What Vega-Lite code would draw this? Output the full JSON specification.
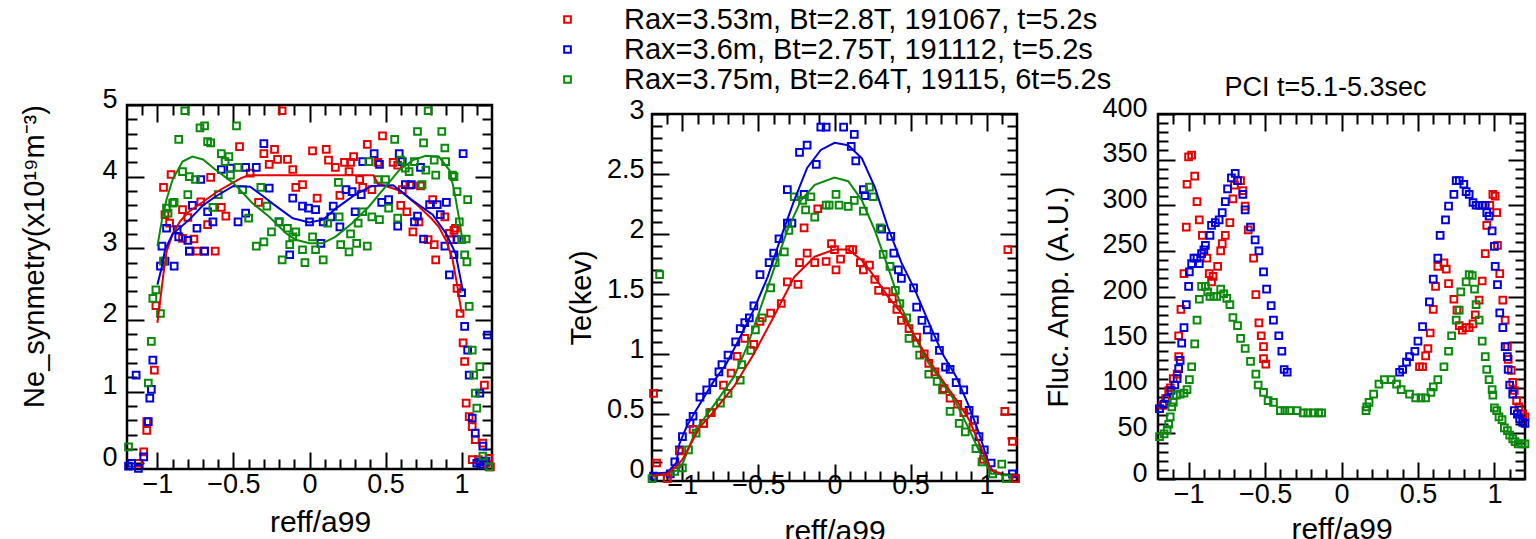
{
"$schema": "https://vega.github.io/schema/vega-lite/v6.json",
"padding": {"left": 19, "top": 5, "right": 0, "bottom": 0},
"background": "white",
"config": {
  "font": "'Liberation Sans', Arial, sans-serif",
  "view": {"stroke": "black", "strokeWidth": 2.5},
  "axis": {"domain": false, "grid": false, "tickColor": "black", "tickWidth": 2, "labelFontSize": 27, "labelColor": "black", "titleFontSize": 29, "titleFontWeight": "normal", "titleColor": "black", "labelOverlap": false, "labelFlush": false, "format": "~r"},
  "axisBottom": {"titleFontSize": 30},
  "title": {"fontSize": 27, "fontWeight": "normal", "color": "black"}
},
"datasets": {
"ne_pts": [
{"s":"r","x":-1.01,"y":2.2},{"s":"r","x":-1.02,"y":1.3},{"s":"r","x":-1.07,"y":0.58},{"s":"r","x":-1.07,"y":0.46},{"s":"r","x":-1.09,"y":0.16},{"s":"r","x":-1.125,"y":0.0},{"s":"r","x":-0.96,"y":3.85},{"s":"r","x":-0.91,"y":4.03},{"s":"r","x":-0.95,"y":3.47},{"s":"r","x":-0.92,"y":3.35},{"s":"r","x":-0.835,"y":3.54},{"s":"r","x":-0.8,"y":3.43},{"s":"r","x":-0.835,"y":3.14},{"s":"r","x":-0.76,"y":3.13},{"s":"r","x":-0.79,"y":2.96},{"s":"r","x":-0.74,"y":2.96},{"s":"r","x":-0.69,"y":2.96},{"s":"r","x":-0.62,"y":2.96},{"s":"r","x":-0.715,"y":3.65},{"s":"r","x":-0.67,"y":3.33},{"s":"r","x":-0.65,"y":3.99},{"s":"r","x":-0.58,"y":3.57},{"s":"r","x":-0.55,"y":3.45},{"s":"r","x":-0.46,"y":4.42},{"s":"r","x":-0.39,"y":4.05},{"s":"r","x":-0.335,"y":3.64},{"s":"r","x":-0.3,"y":4.32},{"s":"r","x":-0.265,"y":4.17},{"s":"r","x":-0.23,"y":4.38},{"s":"r","x":-0.21,"y":4.24},{"s":"r","x":-0.145,"y":4.24},{"s":"r","x":-0.11,"y":4.1},{"s":"r","x":-0.18,"y":4.92},{"s":"r","x":-0.09,"y":3.85},{"s":"r","x":-0.046,"y":3.89},{"s":"r","x":0.02,"y":4.36},{"s":"r","x":0.05,"y":3.7},{"s":"r","x":0.11,"y":4.38},{"s":"r","x":0.125,"y":4.23},{"s":"r","x":0.17,"y":4.13},{"s":"r","x":0.2,"y":3.74},{"s":"r","x":0.23,"y":4.2},{"s":"r","x":0.27,"y":4.2},{"s":"r","x":0.29,"y":4.28},{"s":"r","x":0.26,"y":4.07},{"s":"r","x":0.33,"y":3.96},{"s":"r","x":0.35,"y":3.85},{"s":"r","x":0.38,"y":4.45},{"s":"r","x":0.41,"y":3.82},{"s":"r","x":0.45,"y":4.2},{"s":"r","x":0.48,"y":4.57},{"s":"r","x":0.55,"y":4.2},{"s":"r","x":0.58,"y":4.16},{"s":"r","x":0.6,"y":3.6},{"s":"r","x":0.61,"y":3.82},{"s":"r","x":0.64,"y":3.51},{"s":"r","x":0.68,"y":3.23},{"s":"r","x":0.72,"y":3.37},{"s":"r","x":0.78,"y":3.12},{"s":"r","x":0.82,"y":3.05},{"s":"r","x":0.83,"y":2.84},{"s":"r","x":0.81,"y":3.68},{"s":"r","x":0.89,"y":3.44},{"s":"r","x":0.92,"y":3.21},{"s":"r","x":0.93,"y":3.12},{"s":"r","x":0.97,"y":2.44},{"s":"r","x":0.99,"y":2.09},{"s":"r","x":1.01,"y":1.68},{"s":"r","x":1.02,"y":1.42},{"s":"r","x":1.03,"y":0.84},{"s":"r","x":1.05,"y":0.65},{"s":"r","x":1.07,"y":0.51},{"s":"r","x":1.09,"y":0.33},{"s":"r","x":1.15,"y":1.09},{"s":"r","x":1.14,"y":0.28},{"s":"r","x":1.07,"y":0.05},{"s":"r","x":1.11,"y":0.05},{"s":"r","x":1.16,"y":0.0},{"s":"r","x":1.18,"y":0.07},{"s":"r","x":1.19,"y":-0.05},{"s":"r","x":0.73,"y":3.87},{"s":"r","x":0.66,"y":3.88},{"s":"r","x":0.95,"y":3.25},{"s":"r","x":0.96,"y":3.28},
{"s":"b","x":-1.19,"y":-0.04},{"s":"b","x":-1.17,"y":0.0},{"s":"b","x":-1.125,"y":-0.07},{"s":"b","x":-1.14,"y":1.23},{"s":"b","x":-1.09,"y":0.09},{"s":"b","x":-1.06,"y":0.58},{"s":"b","x":-1.04,"y":1.03},{"s":"b","x":-1.03,"y":1.44},{"s":"b","x":-1.05,"y":0.91},{"s":"b","x":-0.97,"y":3.03},{"s":"b","x":-0.98,"y":2.75},{"s":"b","x":-0.95,"y":2.82},{"s":"b","x":-0.89,"y":2.75},{"s":"b","x":-0.94,"y":3.28},{"s":"b","x":-0.87,"y":3.26},{"s":"b","x":-0.86,"y":3.16},{"s":"b","x":-0.8,"y":3.11},{"s":"b","x":-0.79,"y":2.96},{"s":"b","x":-0.77,"y":3.6},{"s":"b","x":-0.715,"y":3.96},{"s":"b","x":-0.74,"y":3.28},{"s":"b","x":-0.69,"y":2.96},{"s":"b","x":-0.67,"y":3.51},{"s":"b","x":-0.635,"y":3.37},{"s":"b","x":-0.58,"y":4.1},{"s":"b","x":-0.52,"y":4.12},{"s":"b","x":-0.47,"y":3.37},{"s":"b","x":-0.42,"y":3.49},{"s":"b","x":-0.42,"y":4.13},{"s":"b","x":-0.35,"y":4.13},{"s":"b","x":-0.3,"y":4.46},{"s":"b","x":-0.265,"y":3.84},{"s":"b","x":-0.2,"y":3.37},{"s":"b","x":-0.13,"y":2.91},{"s":"b","x":-0.11,"y":3.7},{"s":"b","x":-0.046,"y":3.59},{"s":"b","x":-0.007,"y":3.56},{"s":"b","x":0.04,"y":3.54},{"s":"b","x":0.0,"y":3.37},{"s":"b","x":0.075,"y":3.07},{"s":"b","x":0.09,"y":3.37},{"s":"b","x":0.156,"y":3.59},{"s":"b","x":0.14,"y":3.44},{"s":"b","x":0.2,"y":3.3},{"s":"b","x":0.24,"y":3.82},{"s":"b","x":0.28,"y":3.79},{"s":"b","x":0.3,"y":3.51},{"s":"b","x":0.34,"y":3.75},{"s":"b","x":0.35,"y":4.21},{"s":"b","x":0.425,"y":4.32},{"s":"b","x":0.46,"y":4.17},{"s":"b","x":0.475,"y":3.64},{"s":"b","x":0.52,"y":3.68},{"s":"b","x":0.58,"y":3.31},{"s":"b","x":0.59,"y":4.32},{"s":"b","x":0.61,"y":4.21},{"s":"b","x":0.63,"y":3.89},{"s":"b","x":0.67,"y":3.89},{"s":"b","x":0.69,"y":3.37},{"s":"b","x":0.71,"y":3.45},{"s":"b","x":0.73,"y":4.13},{"s":"b","x":0.75,"y":3.13},{"s":"b","x":0.79,"y":3.61},{"s":"b","x":0.84,"y":3.61},{"s":"b","x":0.86,"y":3.47},{"s":"b","x":0.89,"y":3.03},{"s":"b","x":0.9,"y":3.64},{"s":"b","x":0.92,"y":2.63},{"s":"b","x":0.95,"y":2.91},{"s":"b","x":0.97,"y":3.12},{"s":"b","x":1.0,"y":2.38},{"s":"b","x":1.02,"y":1.91},{"s":"b","x":1.04,"y":1.58},{"s":"b","x":1.05,"y":1.23},{"s":"b","x":1.07,"y":0.63},{"s":"b","x":1.09,"y":0.42},{"s":"b","x":1.12,"y":0.98},{"s":"b","x":1.14,"y":0.24},{"s":"b","x":1.17,"y":1.79},{"s":"b","x":1.01,"y":4.32},{"s":"b","x":1.1,"y":0.0},{"s":"b","x":1.12,"y":0.02},{"s":"b","x":1.14,"y":-0.02},{"s":"b","x":1.16,"y":0.03},
{"s":"g","x":-1.19,"y":0.23},{"s":"g","x":-1.06,"y":1.12},{"s":"g","x":-1.04,"y":1.7},{"s":"g","x":-1.03,"y":2.3},{"s":"g","x":-1.01,"y":2.42},{"s":"g","x":-0.98,"y":2.09},{"s":"g","x":-0.96,"y":2.82},{"s":"g","x":-0.94,"y":3.56},{"s":"g","x":-0.93,"y":3.49},{"s":"g","x":-0.9,"y":3.63},{"s":"g","x":-0.89,"y":3.64},{"s":"g","x":-0.86,"y":4.52},{"s":"g","x":-0.835,"y":4.07},{"s":"g","x":-0.82,"y":4.92},{"s":"g","x":-0.8,"y":3.75},{"s":"g","x":-0.79,"y":4.0},{"s":"g","x":-0.75,"y":3.96},{"s":"g","x":-0.72,"y":4.68},{"s":"g","x":-0.69,"y":4.71},{"s":"g","x":-0.67,"y":4.49},{"s":"g","x":-0.65,"y":4.47},{"s":"g","x":-0.635,"y":3.57},{"s":"g","x":-0.6,"y":3.75},{"s":"g","x":-0.58,"y":4.32},{"s":"g","x":-0.555,"y":4.21},{"s":"g","x":-0.53,"y":4.28},{"s":"g","x":-0.52,"y":4.02},{"s":"g","x":-0.48,"y":4.71},{"s":"g","x":-0.47,"y":4.13},{"s":"g","x":-0.44,"y":3.82},{"s":"g","x":-0.4,"y":3.42},{"s":"g","x":-0.35,"y":3.03},{"s":"g","x":-0.32,"y":3.85},{"s":"g","x":-0.3,"y":3.09},{"s":"g","x":-0.28,"y":3.59},{"s":"g","x":-0.25,"y":3.23},{"s":"g","x":-0.2,"y":3.37},{"s":"g","x":-0.18,"y":2.84},{"s":"g","x":-0.145,"y":3.28},{"s":"g","x":-0.13,"y":3.05},{"s":"g","x":-0.11,"y":3.16},{"s":"g","x":-0.09,"y":3.23},{"s":"g","x":-0.046,"y":2.98},{"s":"g","x":-0.03,"y":2.8},{"s":"g","x":0.02,"y":3.16},{"s":"g","x":0.04,"y":2.98},{"s":"g","x":0.09,"y":2.84},{"s":"g","x":0.12,"y":3.35},{"s":"g","x":0.19,"y":3.92},{"s":"g","x":0.195,"y":3.44},{"s":"g","x":0.205,"y":3.05},{"s":"g","x":0.26,"y":2.95},{"s":"g","x":0.27,"y":3.2},{"s":"g","x":0.31,"y":3.07},{"s":"g","x":0.32,"y":3.35},{"s":"g","x":0.35,"y":3.51},{"s":"g","x":0.38,"y":3.03},{"s":"g","x":0.39,"y":4.21},{"s":"g","x":0.41,"y":3.44},{"s":"g","x":0.45,"y":3.96},{"s":"g","x":0.46,"y":3.4},{"s":"g","x":0.5,"y":3.96},{"s":"g","x":0.52,"y":3.56},{"s":"g","x":0.56,"y":4.52},{"s":"g","x":0.58,"y":3.42},{"s":"g","x":0.6,"y":4.23},{"s":"g","x":0.63,"y":4.12},{"s":"g","x":0.655,"y":4.07},{"s":"g","x":0.69,"y":4.21},{"s":"g","x":0.71,"y":4.63},{"s":"g","x":0.74,"y":3.89},{"s":"g","x":0.75,"y":4.47},{"s":"g","x":0.765,"y":4.09},{"s":"g","x":0.78,"y":4.92},{"s":"g","x":0.82,"y":4.23},{"s":"g","x":0.83,"y":4.02},{"s":"g","x":0.87,"y":4.63},{"s":"g","x":0.89,"y":4.4},{"s":"g","x":0.895,"y":4.21},{"s":"g","x":0.94,"y":4.02},{"s":"g","x":0.95,"y":4.0},{"s":"g","x":0.97,"y":3.79},{"s":"g","x":0.985,"y":3.37},{"s":"g","x":1.0,"y":3.12},{"s":"g","x":1.02,"y":2.91},{"s":"g","x":1.03,"y":3.13},{"s":"g","x":1.035,"y":2.81},{"s":"g","x":1.04,"y":3.68},{"s":"g","x":1.05,"y":2.19},{"s":"g","x":1.07,"y":1.58},{"s":"g","x":1.08,"y":1.23},{"s":"g","x":1.09,"y":0.98},{"s":"g","x":1.1,"y":0.77},{"s":"g","x":1.12,"y":1.35},{"s":"g","x":1.14,"y":0.1},{"s":"g","x":1.18,"y":-0.05}
],
"ne_fit": [
{"s":"r","x":-1.0,"y":1.96},{"s":"r","x":-0.98,"y":2.3},{"s":"r","x":-0.96,"y":2.65},{"s":"r","x":-0.94,"y":2.95},{"s":"r","x":-0.9,"y":3.2},{"s":"r","x":-0.85,"y":3.38},{"s":"r","x":-0.8,"y":3.5},{"s":"r","x":-0.7,"y":3.65},{"s":"r","x":-0.6,"y":3.8},{"s":"r","x":-0.5,"y":3.92},{"s":"r","x":-0.45,"y":3.98},{"s":"r","x":-0.4,"y":4.02},{"s":"r","x":0.42,"y":4.02},{"s":"r","x":0.45,"y":3.9},{"s":"r","x":0.5,"y":3.87},{"s":"r","x":0.6,"y":3.8},{"s":"r","x":0.7,"y":3.62},{"s":"r","x":0.8,"y":3.42},{"s":"r","x":0.85,"y":3.3},{"s":"r","x":0.9,"y":3.1},{"s":"r","x":0.94,"y":2.85},{"s":"r","x":0.97,"y":2.5},{"s":"r","x":1.0,"y":2.1},
{"s":"b","x":-1.0,"y":2.49},{"s":"b","x":-0.97,"y":2.75},{"s":"b","x":-0.95,"y":2.98},{"s":"b","x":-0.9,"y":3.2},{"s":"b","x":-0.79,"y":3.4},{"s":"b","x":-0.7,"y":3.6},{"s":"b","x":-0.62,"y":3.72},{"s":"b","x":-0.5,"y":3.87},{"s":"b","x":-0.39,"y":3.86},{"s":"b","x":-0.3,"y":3.72},{"s":"b","x":-0.24,"y":3.62},{"s":"b","x":-0.11,"y":3.42},{"s":"b","x":0.0,"y":3.36},{"s":"b","x":0.09,"y":3.4},{"s":"b","x":0.17,"y":3.55},{"s":"b","x":0.3,"y":3.75},{"s":"b","x":0.41,"y":3.87},{"s":"b","x":0.55,"y":3.88},{"s":"b","x":0.67,"y":3.68},{"s":"b","x":0.81,"y":3.47},{"s":"b","x":0.9,"y":3.2},{"s":"b","x":0.96,"y":2.93},{"s":"b","x":1.0,"y":2.5},{"s":"b","x":1.01,"y":2.4},
{"s":"g","x":-1.0,"y":3.03},{"s":"g","x":-0.97,"y":3.4},{"s":"g","x":-0.94,"y":3.68},{"s":"g","x":-0.9,"y":3.96},{"s":"g","x":-0.835,"y":4.21},{"s":"g","x":-0.77,"y":4.28},{"s":"g","x":-0.7,"y":4.24},{"s":"g","x":-0.62,"y":4.1},{"s":"g","x":-0.5,"y":3.91},{"s":"g","x":-0.375,"y":3.63},{"s":"g","x":-0.265,"y":3.44},{"s":"g","x":-0.155,"y":3.21},{"s":"g","x":-0.09,"y":3.12},{"s":"g","x":0.0,"y":3.07},{"s":"g","x":0.085,"y":3.07},{"s":"g","x":0.17,"y":3.16},{"s":"g","x":0.28,"y":3.35},{"s":"g","x":0.39,"y":3.58},{"s":"g","x":0.5,"y":3.86},{"s":"g","x":0.59,"y":4.09},{"s":"g","x":0.68,"y":4.23},{"s":"g","x":0.765,"y":4.29},{"s":"g","x":0.85,"y":4.28},{"s":"g","x":0.92,"y":4.09},{"s":"g","x":0.95,"y":3.82},{"s":"g","x":0.985,"y":3.4},{"s":"g","x":1.005,"y":3.12}
],
"te_pts": [
{"s":"b","x":-1.19,"y":-0.02},{"s":"b","x":-1.08,"y":0.0},{"s":"b","x":-1.05,"y":0.1},{"s":"b","x":-1.02,"y":0.2},{"s":"b","x":-1.0,"y":0.31},{"s":"b","x":-0.95,"y":0.42},{"s":"b","x":-0.93,"y":0.48},{"s":"b","x":-0.885,"y":0.64},{"s":"b","x":-0.84,"y":0.7},{"s":"b","x":-0.8,"y":0.76},{"s":"b","x":-0.76,"y":0.85},{"s":"b","x":-0.74,"y":0.91},{"s":"b","x":-0.7,"y":0.99},{"s":"b","x":-0.65,"y":1.1},{"s":"b","x":-0.62,"y":1.21},{"s":"b","x":-0.59,"y":1.26},{"s":"b","x":-0.56,"y":1.3},{"s":"b","x":-0.53,"y":1.4},{"s":"b","x":-0.49,"y":1.66},{"s":"b","x":-0.43,"y":1.76},{"s":"b","x":-0.4,"y":1.84},{"s":"b","x":-0.365,"y":1.96},{"s":"b","x":-0.31,"y":2.09},{"s":"b","x":-0.31,"y":2.37},{"s":"b","x":-0.28,"y":2.09},{"s":"b","x":-0.23,"y":2.68},{"s":"b","x":-0.2,"y":2.33},{"s":"b","x":-0.18,"y":2.74},{"s":"b","x":-0.12,"y":2.58},{"s":"b","x":-0.09,"y":2.89},{"s":"b","x":-0.055,"y":2.89},{"s":"b","x":0.06,"y":2.89},{"s":"b","x":0.11,"y":2.73},{"s":"b","x":0.13,"y":2.83},{"s":"b","x":0.14,"y":2.61},{"s":"b","x":0.19,"y":2.37},{"s":"b","x":0.2,"y":2.32},{"s":"b","x":0.31,"y":2.04},{"s":"b","x":0.37,"y":1.98},{"s":"b","x":0.39,"y":1.84},{"s":"b","x":0.42,"y":1.7},{"s":"b","x":0.44,"y":1.63},{"s":"b","x":0.52,"y":1.55},{"s":"b","x":0.54,"y":1.39},{"s":"b","x":0.575,"y":1.28},{"s":"b","x":0.61,"y":1.2},{"s":"b","x":0.66,"y":1.14},{"s":"b","x":0.69,"y":1.03},{"s":"b","x":0.73,"y":0.89},{"s":"b","x":0.76,"y":0.87},{"s":"b","x":0.8,"y":0.76},{"s":"b","x":0.85,"y":0.7},{"s":"b","x":0.885,"y":0.53},{"s":"b","x":0.92,"y":0.45},{"s":"b","x":0.95,"y":0.31},{"s":"b","x":0.985,"y":0.2},{"s":"b","x":1.03,"y":0.09},{"s":"b","x":1.17,"y":0.0},{"s":"b","x":1.19,"y":-0.04},
{"s":"g","x":-1.2,"y":-0.04},{"s":"g","x":-1.15,"y":1.66},{"s":"g","x":-1.1,"y":-0.04},{"s":"g","x":-1.05,"y":0.02},{"s":"g","x":-1.0,"y":0.05},{"s":"g","x":-0.96,"y":0.2},{"s":"g","x":-0.91,"y":0.34},{"s":"g","x":-0.86,"y":0.42},{"s":"g","x":-0.82,"y":0.51},{"s":"g","x":-0.75,"y":0.59},{"s":"g","x":-0.7,"y":0.67},{"s":"g","x":-0.62,"y":0.78},{"s":"g","x":-0.61,"y":0.91},{"s":"g","x":-0.55,"y":1.03},{"s":"g","x":-0.52,"y":1.2},{"s":"g","x":-0.475,"y":1.3},{"s":"g","x":-0.42,"y":1.55},{"s":"g","x":-0.39,"y":1.76},{"s":"g","x":-0.33,"y":1.85},{"s":"g","x":-0.3,"y":2.03},{"s":"g","x":-0.265,"y":2.31},{"s":"g","x":-0.21,"y":2.28},{"s":"g","x":-0.19,"y":2.2},{"s":"g","x":-0.155,"y":2.31},{"s":"g","x":-0.13,"y":2.14},{"s":"g","x":-0.055,"y":2.24},{"s":"g","x":-0.035,"y":2.24},{"s":"g","x":0.01,"y":2.33},{"s":"g","x":0.03,"y":2.24},{"s":"g","x":0.09,"y":2.23},{"s":"g","x":0.13,"y":2.28},{"s":"g","x":0.19,"y":2.19},{"s":"g","x":0.23,"y":2.39},{"s":"g","x":0.255,"y":2.31},{"s":"g","x":0.3,"y":2.05},{"s":"g","x":0.32,"y":1.83},{"s":"g","x":0.365,"y":1.73},{"s":"g","x":0.4,"y":1.53},{"s":"g","x":0.43,"y":1.42},{"s":"g","x":0.475,"y":1.3},{"s":"g","x":0.49,"y":1.13},{"s":"g","x":0.54,"y":1.09},{"s":"g","x":0.56,"y":0.99},{"s":"g","x":0.62,"y":0.83},{"s":"g","x":0.675,"y":0.77},{"s":"g","x":0.71,"y":0.7},{"s":"g","x":0.76,"y":0.52},{"s":"g","x":0.82,"y":0.42},{"s":"g","x":0.86,"y":0.35},{"s":"g","x":0.93,"y":0.21},{"s":"g","x":0.97,"y":0.1},{"s":"g","x":1.04,"y":0.0},{"s":"g","x":1.1,"y":0.08},{"s":"g","x":1.13,"y":-0.04},
{"s":"r","x":-1.19,"y":0.67},{"s":"r","x":-1.17,"y":0.09},{"s":"r","x":-1.1,"y":-0.04},{"s":"r","x":-1.02,"y":0.19},{"s":"r","x":-0.93,"y":0.37},{"s":"r","x":-0.86,"y":0.42},{"s":"r","x":-0.81,"y":0.51},{"s":"r","x":-0.73,"y":0.74},{"s":"r","x":-0.68,"y":0.84},{"s":"r","x":-0.64,"y":0.98},{"s":"r","x":-0.59,"y":1.13},{"s":"r","x":-0.53,"y":1.08},{"s":"r","x":-0.49,"y":1.27},{"s":"r","x":-0.42,"y":1.34},{"s":"r","x":-0.35,"y":1.42},{"s":"r","x":-0.31,"y":1.6},{"s":"r","x":-0.24,"y":1.58},{"s":"r","x":-0.23,"y":1.76},{"s":"r","x":-0.18,"y":1.84},{"s":"r","x":-0.13,"y":1.76},{"s":"r","x":-0.11,"y":2.21},{"s":"r","x":-0.2,"y":2.05},{"s":"r","x":-0.055,"y":1.77},{"s":"r","x":-0.02,"y":1.92},{"s":"r","x":0.0,"y":1.87},{"s":"r","x":0.01,"y":1.7},{"s":"r","x":0.04,"y":1.79},{"s":"r","x":0.1,"y":1.87},{"s":"r","x":0.12,"y":1.87},{"s":"r","x":0.17,"y":1.76},{"s":"r","x":0.19,"y":1.7},{"s":"r","x":0.23,"y":1.74},{"s":"r","x":0.265,"y":1.62},{"s":"r","x":0.29,"y":1.53},{"s":"r","x":0.34,"y":1.52},{"s":"r","x":0.38,"y":1.46},{"s":"r","x":0.41,"y":1.37},{"s":"r","x":0.44,"y":1.28},{"s":"r","x":0.49,"y":1.21},{"s":"r","x":0.54,"y":1.14},{"s":"r","x":0.59,"y":1.0},{"s":"r","x":0.62,"y":0.92},{"s":"r","x":0.66,"y":0.85},{"s":"r","x":0.72,"y":0.71},{"s":"r","x":0.76,"y":0.63},{"s":"r","x":0.81,"y":0.58},{"s":"r","x":0.85,"y":0.51},{"s":"r","x":0.91,"y":0.39},{"s":"r","x":0.98,"y":0.12},{"s":"r","x":1.12,"y":0.52},{"s":"r","x":1.14,"y":1.87},{"s":"r","x":1.17,"y":0.27},{"s":"r","x":1.19,"y":-0.04}
],
"te_fit": [
{"s":"b","x":-1.2,"y":0.0},{"s":"b","x":-1.1,"y":0.01},{"s":"b","x":-1.04,"y":0.09},{"s":"b","x":-1.02,"y":0.25},{"s":"b","x":-0.97,"y":0.4},{"s":"b","x":-0.91,"y":0.53},{"s":"b","x":-0.8,"y":0.76},{"s":"b","x":-0.71,"y":0.92},{"s":"b","x":-0.62,"y":1.14},{"s":"b","x":-0.53,"y":1.37},{"s":"b","x":-0.44,"y":1.64},{"s":"b","x":-0.35,"y":1.98},{"s":"b","x":-0.265,"y":2.28},{"s":"b","x":-0.18,"y":2.55},{"s":"b","x":-0.09,"y":2.7},{"s":"b","x":0.0,"y":2.76},{"s":"b","x":0.09,"y":2.74},{"s":"b","x":0.18,"y":2.63},{"s":"b","x":0.265,"y":2.39},{"s":"b","x":0.35,"y":2.06},{"s":"b","x":0.44,"y":1.76},{"s":"b","x":0.53,"y":1.53},{"s":"b","x":0.62,"y":1.26},{"s":"b","x":0.71,"y":1.0},{"s":"b","x":0.8,"y":0.81},{"s":"b","x":0.885,"y":0.56},{"s":"b","x":0.95,"y":0.34},{"s":"b","x":1.02,"y":0.06},{"s":"b","x":1.06,"y":0.0},{"s":"b","x":1.1,"y":0.0},
{"s":"g","x":-1.2,"y":-0.02},{"s":"g","x":-1.1,"y":0.0},{"s":"g","x":-1.03,"y":0.03},{"s":"g","x":-1.0,"y":0.08},{"s":"g","x":-0.91,"y":0.37},{"s":"g","x":-0.8,"y":0.56},{"s":"g","x":-0.66,"y":0.81},{"s":"g","x":-0.575,"y":1.06},{"s":"g","x":-0.49,"y":1.37},{"s":"g","x":-0.4,"y":1.7},{"s":"g","x":-0.31,"y":2.03},{"s":"g","x":-0.22,"y":2.28},{"s":"g","x":-0.13,"y":2.41},{"s":"g","x":0.0,"y":2.47},{"s":"g","x":0.09,"y":2.44},{"s":"g","x":0.18,"y":2.28},{"s":"g","x":0.265,"y":2.03},{"s":"g","x":0.35,"y":1.73},{"s":"g","x":0.44,"y":1.39},{"s":"g","x":0.53,"y":1.14},{"s":"g","x":0.62,"y":0.92},{"s":"g","x":0.71,"y":0.76},{"s":"g","x":0.8,"y":0.59},{"s":"g","x":0.885,"y":0.37},{"s":"g","x":0.97,"y":0.14},{"s":"g","x":1.03,"y":0.0},{"s":"g","x":1.1,"y":0.0},
{"s":"r","x":-1.2,"y":-0.02},{"s":"r","x":-1.1,"y":0.0},{"s":"r","x":-1.04,"y":0.06},{"s":"r","x":-1.0,"y":0.12},{"s":"r","x":-0.885,"y":0.39},{"s":"r","x":-0.8,"y":0.51},{"s":"r","x":-0.66,"y":0.73},{"s":"r","x":-0.53,"y":1.0},{"s":"r","x":-0.4,"y":1.31},{"s":"r","x":-0.265,"y":1.64},{"s":"r","x":-0.13,"y":1.81},{"s":"r","x":0.0,"y":1.87},{"s":"r","x":0.09,"y":1.87},{"s":"r","x":0.18,"y":1.78},{"s":"r","x":0.265,"y":1.64},{"s":"r","x":0.35,"y":1.48},{"s":"r","x":0.44,"y":1.34},{"s":"r","x":0.53,"y":1.14},{"s":"r","x":0.62,"y":0.95},{"s":"r","x":0.71,"y":0.78},{"s":"r","x":0.8,"y":0.62},{"s":"r","x":0.885,"y":0.45},{"s":"r","x":0.97,"y":0.2},{"s":"r","x":1.03,"y":0.03},{"s":"r","x":1.1,"y":0.0}
],
"pci_pts": [
{"s":"r","x":-1.19,"y":77},{"s":"r","x":-1.17,"y":80.6},{"s":"r","x":-1.15,"y":88},{"s":"r","x":-1.13,"y":97},{"s":"r","x":-1.12,"y":100},{"s":"r","x":-1.1,"y":110},{"s":"r","x":-1.075,"y":115},{"s":"r","x":-1.065,"y":134},{"s":"r","x":-1.065,"y":157},{"s":"r","x":-1.05,"y":186},{"s":"r","x":-1.03,"y":225},{"s":"r","x":-1.015,"y":276},{"s":"r","x":-1.01,"y":323},{"s":"r","x":-1.0,"y":353},{"s":"r","x":-0.98,"y":355},{"s":"r","x":-0.96,"y":332},{"s":"r","x":-0.945,"y":304},{"s":"r","x":-0.93,"y":284},{"s":"r","x":-0.91,"y":267},{"s":"r","x":-0.88,"y":242},{"s":"r","x":-0.865,"y":225},{"s":"r","x":-0.85,"y":216},{"s":"r","x":-0.84,"y":222},{"s":"r","x":-0.81,"y":233},{"s":"r","x":-0.79,"y":250},{"s":"r","x":-0.78,"y":258},{"s":"r","x":-0.76,"y":267},{"s":"r","x":-0.73,"y":281},{"s":"r","x":-0.71,"y":307},{"s":"r","x":-0.7,"y":322},{"s":"r","x":-0.66,"y":327},{"s":"r","x":-0.645,"y":316},{"s":"r","x":-0.63,"y":299},{"s":"r","x":-0.61,"y":273},{"s":"r","x":-0.575,"y":242},{"s":"r","x":-0.56,"y":202},{"s":"r","x":-0.54,"y":171},{"s":"r","x":-0.525,"y":157},{"s":"r","x":-0.51,"y":145},{"s":"r","x":-0.51,"y":132},{"s":"r","x":-0.495,"y":126},
{"s":"r","x":0.51,"y":123},{"s":"r","x":0.53,"y":123},{"s":"r","x":0.55,"y":135},{"s":"r","x":0.565,"y":143},{"s":"r","x":0.58,"y":160},{"s":"r","x":0.6,"y":186},{"s":"r","x":0.615,"y":211},{"s":"r","x":0.63,"y":233},{"s":"r","x":0.67,"y":237},{"s":"r","x":0.685,"y":230},{"s":"r","x":0.7,"y":214},{"s":"r","x":0.735,"y":197},{"s":"r","x":0.755,"y":185},{"s":"r","x":0.77,"y":168},{"s":"r","x":0.79,"y":163},{"s":"r","x":0.815,"y":166},{"s":"r","x":0.835,"y":166},{"s":"r","x":0.86,"y":170},{"s":"r","x":0.875,"y":180},{"s":"r","x":0.9,"y":196},{"s":"r","x":0.92,"y":217},{"s":"r","x":0.94,"y":247},{"s":"r","x":0.95,"y":278},{"s":"r","x":0.97,"y":300},{"s":"r","x":0.99,"y":312},{"s":"r","x":1.005,"y":310},{"s":"r","x":1.015,"y":292},{"s":"r","x":1.02,"y":256},{"s":"r","x":1.035,"y":225},{"s":"r","x":1.055,"y":196},{"s":"r","x":1.07,"y":174},{"s":"r","x":1.085,"y":145},{"s":"r","x":1.09,"y":131},{"s":"r","x":1.11,"y":119},{"s":"r","x":1.12,"y":106},{"s":"r","x":1.13,"y":97},{"s":"r","x":1.145,"y":86},{"s":"r","x":1.16,"y":79},{"s":"r","x":1.185,"y":71},{"s":"r","x":1.2,"y":68},
{"s":"b","x":-1.19,"y":77},{"s":"b","x":-1.16,"y":82},{"s":"b","x":-1.14,"y":88},{"s":"b","x":-1.115,"y":97},{"s":"b","x":-1.09,"y":103},{"s":"b","x":-1.075,"y":110},{"s":"b","x":-1.065,"y":121},{"s":"b","x":-1.055,"y":130},{"s":"b","x":-1.045,"y":149},{"s":"b","x":-1.03,"y":166},{"s":"b","x":-1.015,"y":191},{"s":"b","x":-1.0,"y":211},{"s":"b","x":-0.995,"y":227},{"s":"b","x":-0.98,"y":236},{"s":"b","x":-0.965,"y":242},{"s":"b","x":-0.945,"y":242},{"s":"b","x":-0.93,"y":236},{"s":"b","x":-0.915,"y":247},{"s":"b","x":-0.9,"y":251},{"s":"b","x":-0.89,"y":256},{"s":"b","x":-0.86,"y":267},{"s":"b","x":-0.85,"y":278},{"s":"b","x":-0.825,"y":281},{"s":"b","x":-0.8,"y":284},{"s":"b","x":-0.78,"y":292},{"s":"b","x":-0.76,"y":304},{"s":"b","x":-0.745,"y":318},{"s":"b","x":-0.72,"y":330},{"s":"b","x":-0.695,"y":335},{"s":"b","x":-0.68,"y":327},{"s":"b","x":-0.645,"y":312},{"s":"b","x":-0.63,"y":295},{"s":"b","x":-0.595,"y":276},{"s":"b","x":-0.565,"y":262},{"s":"b","x":-0.54,"y":250},{"s":"b","x":-0.51,"y":227},{"s":"b","x":-0.49,"y":208},{"s":"b","x":-0.46,"y":190},{"s":"b","x":-0.445,"y":174},{"s":"b","x":-0.41,"y":157},{"s":"b","x":-0.39,"y":140},{"s":"b","x":-0.375,"y":120},{"s":"b","x":-0.355,"y":117},
{"s":"b","x":0.38,"y":117},{"s":"b","x":0.4,"y":120},{"s":"b","x":0.425,"y":128},{"s":"b","x":0.445,"y":134},{"s":"b","x":0.48,"y":140},{"s":"b","x":0.5,"y":151},{"s":"b","x":0.53,"y":167},{"s":"b","x":0.575,"y":194},{"s":"b","x":0.6,"y":219},{"s":"b","x":0.63,"y":242},{"s":"b","x":0.645,"y":267},{"s":"b","x":0.68,"y":284},{"s":"b","x":0.7,"y":299},{"s":"b","x":0.735,"y":312},{"s":"b","x":0.75,"y":327},{"s":"b","x":0.77,"y":327},{"s":"b","x":0.8,"y":323},{"s":"b","x":0.815,"y":315},{"s":"b","x":0.835,"y":312},{"s":"b","x":0.86,"y":303},{"s":"b","x":0.88,"y":300},{"s":"b","x":0.9,"y":300},{"s":"b","x":0.92,"y":300},{"s":"b","x":0.94,"y":300},{"s":"b","x":0.95,"y":292},{"s":"b","x":0.965,"y":288},{"s":"b","x":0.985,"y":272},{"s":"b","x":1.0,"y":255},{"s":"b","x":1.005,"y":233},{"s":"b","x":1.02,"y":213},{"s":"b","x":1.035,"y":182},{"s":"b","x":1.055,"y":166},{"s":"b","x":1.07,"y":145},{"s":"b","x":1.085,"y":134},{"s":"b","x":1.09,"y":120},{"s":"b","x":1.1,"y":103},{"s":"b","x":1.12,"y":93},{"s":"b","x":1.13,"y":75},{"s":"b","x":1.15,"y":71},{"s":"b","x":1.165,"y":66},{"s":"b","x":1.185,"y":62},{"s":"b","x":1.2,"y":61},
{"s":"g","x":-1.19,"y":46.5},{"s":"g","x":-1.16,"y":49.5},{"s":"g","x":-1.14,"y":54},{"s":"g","x":-1.13,"y":60},{"s":"g","x":-1.12,"y":68},{"s":"g","x":-1.11,"y":79},{"s":"g","x":-1.1,"y":84},{"s":"g","x":-1.08,"y":92},{"s":"g","x":-1.055,"y":93},{"s":"g","x":-1.03,"y":94},{"s":"g","x":-1.01,"y":98},{"s":"g","x":-0.995,"y":109},{"s":"g","x":-0.98,"y":123},{"s":"g","x":-0.96,"y":148},{"s":"g","x":-0.945,"y":174},{"s":"g","x":-0.93,"y":197},{"s":"g","x":-0.915,"y":211},{"s":"g","x":-0.89,"y":211},{"s":"g","x":-0.875,"y":205},{"s":"g","x":-0.86,"y":200},{"s":"g","x":-0.835,"y":200},{"s":"g","x":-0.815,"y":200},{"s":"g","x":-0.79,"y":208},{"s":"g","x":-0.77,"y":203},{"s":"g","x":-0.75,"y":198},{"s":"g","x":-0.73,"y":191},{"s":"g","x":-0.71,"y":177},{"s":"g","x":-0.68,"y":168},{"s":"g","x":-0.66,"y":154},{"s":"g","x":-0.63,"y":143},{"s":"g","x":-0.595,"y":129},{"s":"g","x":-0.56,"y":115},{"s":"g","x":-0.545,"y":103},{"s":"g","x":-0.51,"y":95},{"s":"g","x":-0.48,"y":86},{"s":"g","x":-0.445,"y":84},{"s":"g","x":-0.4,"y":75},{"s":"g","x":-0.37,"y":75},{"s":"g","x":-0.34,"y":75},{"s":"g","x":-0.29,"y":75},{"s":"g","x":-0.25,"y":72.5},{"s":"g","x":-0.22,"y":72.5},{"s":"g","x":-0.185,"y":72.5},{"s":"g","x":-0.15,"y":72.5},{"s":"g","x":-0.13,"y":72.5},
{"s":"g","x":0.16,"y":75},{"s":"g","x":0.165,"y":79},{"s":"g","x":0.18,"y":84},{"s":"g","x":0.21,"y":93},{"s":"g","x":0.245,"y":104},{"s":"g","x":0.28,"y":109},{"s":"g","x":0.325,"y":109},{"s":"g","x":0.36,"y":104},{"s":"g","x":0.39,"y":98},{"s":"g","x":0.445,"y":93},{"s":"g","x":0.485,"y":89},{"s":"g","x":0.52,"y":89},{"s":"g","x":0.55,"y":89},{"s":"g","x":0.585,"y":95},{"s":"g","x":0.6,"y":101},{"s":"g","x":0.63,"y":109},{"s":"g","x":0.67,"y":123},{"s":"g","x":0.7,"y":140},{"s":"g","x":0.72,"y":157},{"s":"g","x":0.75,"y":174},{"s":"g","x":0.77,"y":185},{"s":"g","x":0.78,"y":205},{"s":"g","x":0.815,"y":216},{"s":"g","x":0.835,"y":224},{"s":"g","x":0.855,"y":223},{"s":"g","x":0.87,"y":208},{"s":"g","x":0.88,"y":191},{"s":"g","x":0.9,"y":174},{"s":"g","x":0.92,"y":151},{"s":"g","x":0.94,"y":134},{"s":"g","x":0.95,"y":120},{"s":"g","x":0.965,"y":109},{"s":"g","x":0.985,"y":98},{"s":"g","x":0.99,"y":92},{"s":"g","x":1.0,"y":78},{"s":"g","x":1.015,"y":75},{"s":"g","x":1.03,"y":68},{"s":"g","x":1.05,"y":65},{"s":"g","x":1.065,"y":56},{"s":"g","x":1.085,"y":53},{"s":"g","x":1.1,"y":48},{"s":"g","x":1.12,"y":44},{"s":"g","x":1.135,"y":41},{"s":"g","x":1.155,"y":38.5},{"s":"g","x":1.18,"y":38.5},{"s":"g","x":1.2,"y":38.5}
]
},
"hconcat": [
{
 "width": 365, "height": 364,
 "layer": [
  {"data": {"name": "ne_pts"},
   "mark": {"type": "point", "shape": "square", "filled": false, "size": 45, "strokeWidth": 2, "opacity": 1},
   "encoding": {
    "x": {"field": "x", "type": "quantitative", "scale": {"domain": [-1.2, 1.2], "nice": false, "zero": false},
      "axis": {"orient": "bottom", "values": [-1.1,-1,-0.9,-0.8,-0.7,-0.6,-0.5,-0.4,-0.3,-0.2,-0.1,0,0.1,0.2,0.3,0.4,0.5,0.6,0.7,0.8,0.9,1,1.1],
        "labelExpr": "abs(datum.value*2-round(datum.value*2))<0.001 ? datum.label : ''",
        "tickSize": {"condition": {"test": "abs(datum.value*2-round(datum.value*2))<0.001", "value": -17}, "value": -10},
        "labelPadding": 19, "title": "reff/a99", "titlePadding": 3, "titleX": 193}},
    "y": {"field": "y", "type": "quantitative", "scale": {"domain": [-0.08, 5], "nice": false, "zero": false},
      "axis": {"orient": "left", "values": [0,0.2,0.4,0.6,0.8,1,1.2,1.4,1.6,1.8,2,2.2,2.4,2.6,2.8,3,3.2,3.4,3.6,3.8,4,4.2,4.4,4.6,4.8,5],
        "labelExpr": "abs(datum.value-round(datum.value))<0.001 ? datum.label : ''",
        "tickSize": {"condition": {"test": "abs(datum.value-round(datum.value))<0.001", "value": -17}, "value": -10},
        "labelPadding": 27, "labelOffset": -6, "title": "Ne_synmetry(x10¹⁹m⁻³)", "titlePadding": 52, "titleY": 151}},
    "color": {"field": "s", "type": "nominal", "scale": {"domain": ["r","b","g"], "range": ["#e60000","#0000dc","#0a8a0a"]},
      "legend": {"orient": "none", "legendX": 426, "legendY": -100, "title": null, "symbolType": "square", "symbolSize": 45, "symbolStrokeWidth": 2, "symbolFillColor": "transparent",
        "labelFontSize": 29, "labelOffset": 42, "rowPadding": -1, "labelLimit": 800,
        "labelExpr": "datum.value == 'r' ? 'Rax=3.53m, Bt=2.8T, 191067, t=5.2s' : datum.value == 'b' ? 'Rax=3.6m, Bt=2.75T, 191112, t=5.2s' : 'Rax=3.75m, Bt=2.64T, 19115, 6t=5.2s'",
        "encode": {"labels": {"update": {"fill": {"signal": "scale('color', datum.value)"}}}}}}
   }},
  {"data": {"name": "ne_fit"},
   "mark": {"type": "line", "strokeWidth": 2},
   "encoding": {
    "x": {"field": "x", "type": "quantitative", "scale": {"domain": [-1.2, 1.2], "nice": false, "zero": false},
      "axis": {"orient": "top", "values": [-1.1,-1,-0.9,-0.8,-0.7,-0.6,-0.5,-0.4,-0.3,-0.2,-0.1,0,0.1,0.2,0.3,0.4,0.5,0.6,0.7,0.8,0.9,1,1.1],
        "labels": false, "title": null,
        "tickSize": {"condition": {"test": "abs(datum.value*2-round(datum.value*2))<0.001", "value": -17}, "value": -10}}},
    "y": {"field": "y", "type": "quantitative", "scale": {"domain": [-0.08, 5], "nice": false, "zero": false},
      "axis": {"orient": "right", "values": [0,0.2,0.4,0.6,0.8,1,1.2,1.4,1.6,1.8,2,2.2,2.4,2.6,2.8,3,3.2,3.4,3.6,3.8,4,4.2,4.4,4.6,4.8,5],
        "labels": false, "title": null,
        "tickSize": {"condition": {"test": "abs(datum.value-round(datum.value))<0.001", "value": -17}, "value": -10}}},
    "color": {"field": "s", "type": "nominal", "legend": null}
   }}
 ],
 "resolve": {"axis": {"x": "independent", "y": "independent"}}
},
{
 "vconcat": [
  {"width": 1, "height": 1, "data": {"values": [{}]}, "mark": {"type": "point", "opacity": 0}, "encoding": {}, "view": {"stroke": null}},
  {
   "hconcat": [
    {
     "width": 365, "height": 367,
     "layer": [
      {"data": {"name": "te_pts"},
       "mark": {"type": "point", "shape": "square", "filled": false, "size": 45, "strokeWidth": 2, "opacity": 1},
       "encoding": {
        "x": {"field": "x", "type": "quantitative", "scale": {"domain": [-1.2, 1.2], "nice": false, "zero": false},
          "axis": {"orient": "bottom", "values": [-1.1,-1,-0.9,-0.8,-0.7,-0.6,-0.5,-0.4,-0.3,-0.2,-0.1,0,0.1,0.2,0.3,0.4,0.5,0.6,0.7,0.8,0.9,1,1.1],
            "labelExpr": "abs(datum.value*2-round(datum.value*2))<0.001 ? datum.label : ''",
            "tickSize": {"condition": {"test": "abs(datum.value*2-round(datum.value*2))<0.001", "value": -17}, "value": -10},
            "labelPadding": 8, "title": "reff/a99", "titlePadding": 11}},
        "y": {"field": "y", "type": "quantitative", "scale": {"domain": [-0.06, 3], "nice": false, "zero": false},
          "axis": {"orient": "left", "values": [0,0.1,0.2,0.3,0.4,0.5,0.6,0.7,0.8,0.9,1,1.1,1.2,1.3,1.4,1.5,1.6,1.7,1.8,1.9,2,2.1,2.2,2.3,2.4,2.5,2.6,2.7,2.8,2.9,3],
            "labelExpr": "abs(datum.value*2-round(datum.value*2))<0.001 ? datum.label : ''",
            "tickSize": {"condition": {"test": "abs(datum.value*2-round(datum.value*2))<0.001", "value": -17}, "value": -10},
            "labelPadding": 25, "labelOffset": -4, "title": "Te(kev)", "titlePadding": 10}},
        "color": {"field": "s", "type": "nominal", "legend": null}
       }},
      {"data": {"name": "te_fit"},
       "mark": {"type": "line", "strokeWidth": 2},
       "encoding": {
        "x": {"field": "x", "type": "quantitative", "scale": {"domain": [-1.2, 1.2], "nice": false, "zero": false},
          "axis": {"orient": "top", "values": [-1.1,-1,-0.9,-0.8,-0.7,-0.6,-0.5,-0.4,-0.3,-0.2,-0.1,0,0.1,0.2,0.3,0.4,0.5,0.6,0.7,0.8,0.9,1,1.1],
            "labels": false, "title": null,
            "tickSize": {"condition": {"test": "abs(datum.value*2-round(datum.value*2))<0.001", "value": -17}, "value": -10}}},
        "y": {"field": "y", "type": "quantitative", "scale": {"domain": [-0.06, 3], "nice": false, "zero": false},
          "axis": {"orient": "right", "values": [0,0.1,0.2,0.3,0.4,0.5,0.6,0.7,0.8,0.9,1,1.1,1.2,1.3,1.4,1.5,1.6,1.7,1.8,1.9,2,2.1,2.2,2.3,2.4,2.5,2.6,2.7,2.8,2.9,3],
            "labels": false, "title": null,
            "tickSize": {"condition": {"test": "abs(datum.value*2-round(datum.value*2))<0.001", "value": -17}, "value": -10}}},
        "color": {"field": "s", "type": "nominal", "legend": null}
       }}
     ],
     "resolve": {"axis": {"x": "independent", "y": "independent"}}
    },
    {
     "width": 367, "height": 365,
     "title": {"text": "PCI t=5.1-5.3sec", "fontSize": 27, "fontWeight": "normal", "anchor": "middle", "offset": -8, "dx": -16},
     "data": {"name": "pci_pts"},
     "layer": [
      {"transform": [{"filter": "datum.x < 0"}],
       "mark": {"type": "point", "shape": "square", "filled": false, "size": 45, "strokeWidth": 2, "opacity": 1},
       "encoding": {
        "x": {"field": "x", "type": "quantitative", "scale": {"domain": [-1.2, 1.2], "nice": false, "zero": false},
          "axis": {"orient": "bottom", "values": [-1.1,-1,-0.9,-0.8,-0.7,-0.6,-0.5,-0.4,-0.3,-0.2,-0.1,0,0.1,0.2,0.3,0.4,0.5,0.6,0.7,0.8,0.9,1,1.1],
            "labelExpr": "abs(datum.value*2-round(datum.value*2))<0.001 ? datum.label : ''",
            "tickSize": {"condition": {"test": "abs(datum.value*2-round(datum.value*2))<0.001", "value": -17}, "value": -10},
            "labelPadding": 19, "title": "reff/a99", "titlePadding": 0}},
        "y": {"field": "y", "type": "quantitative", "scale": {"domain": [0, 400], "nice": false, "zero": false},
          "axis": {"orient": "left", "values": [0,10,20,30,40,50,60,70,80,90,100,110,120,130,140,150,160,170,180,190,200,210,220,230,240,250,260,270,280,290,300,310,320,330,340,350,360,370,380,390,400],
            "labelExpr": "datum.value % 50 == 0 ? datum.label : ''",
            "tickSize": {"condition": {"test": "datum.value % 50 == 0", "value": -17}, "value": -10},
            "labelPadding": 28, "labelOffset": -6, "title": "Fluc. Amp. (A.U.)", "titlePadding": 28}},
        "color": {"field": "s", "type": "nominal", "legend": null}
       }},
      {"transform": [{"filter": "datum.x >= 0"}],
       "mark": {"type": "point", "shape": "square", "filled": false, "size": 45, "strokeWidth": 2, "opacity": 1},
       "encoding": {
        "x": {"field": "x", "type": "quantitative", "scale": {"domain": [-1.2, 1.2], "nice": false, "zero": false},
          "axis": {"orient": "top", "values": [-1.1,-1,-0.9,-0.8,-0.7,-0.6,-0.5,-0.4,-0.3,-0.2,-0.1,0,0.1,0.2,0.3,0.4,0.5,0.6,0.7,0.8,0.9,1,1.1],
            "labels": false, "title": null,
            "tickSize": {"condition": {"test": "abs(datum.value*2-round(datum.value*2))<0.001", "value": -17}, "value": -10}}},
        "y": {"field": "y", "type": "quantitative", "scale": {"domain": [0, 400], "nice": false, "zero": false},
          "axis": {"orient": "right", "values": [0,10,20,30,40,50,60,70,80,90,100,110,120,130,140,150,160,170,180,190,200,210,220,230,240,250,260,270,280,290,300,310,320,330,340,350,360,370,380,390,400],
            "labels": false, "title": null,
            "tickSize": {"condition": {"test": "datum.value % 50 == 0", "value": -17}, "value": -10}}},
        "color": {"field": "s", "type": "nominal", "legend": null}
       }}
     ],
     "resolve": {"axis": {"x": "independent", "y": "independent"}}
    }
   ],
   "spacing": 141, "bounds": "flush"
  }
 ],
 "spacing": 8, "bounds": "flush"
}
],
"spacing": 160,
"bounds": "flush"
}
